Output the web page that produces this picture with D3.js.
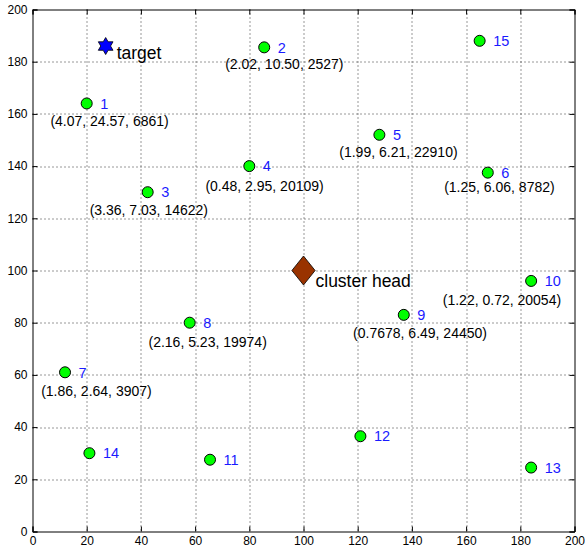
<!DOCTYPE html>
<html>
<head>
<meta charset="utf-8">
<script src="https://cdn.jsdelivr.net/npm/d3@7"></script>
<style>
  body { margin: 0; background: #fff; }
  svg { display: block; font-family: "Liberation Sans", Arial, Helvetica, sans-serif; }
  .tick-label { font-size: 12px; fill: #000; }
  .node-id { font-size: 14.5px; fill: #1a1aff; }
  .tuple { font-size: 14px; fill: #000; }
  .big-label { font-size: 17.5px; fill: #000; }
</style>
</head>
<body>
<div id="app"></div>
<script>
// sensor nodes
const nodeIds = [1, 2, 3, 4, 5, 6, 7, 8, 9, 10, 11, 12, 13, 14, 15]
const nodeX = [20, 85.5, 42.5, 80, 128, 168, 12, 58, 137, 184, 65.5, 121, 184, 21, 165]
const nodeY = [164, 185.5, 130, 140, 152, 137.5, 61, 80, 83, 96, 27.5, 36.5, 24.5, 30, 188]

// annotation tuples for nodes 1..10, with their anchor points (data units)
const tupleText = [
  '(4.07, 24.57, 6861)',
  '(2.02, 10.50, 2527)',
  '(3.36, 7.03, 14622)',
  '(0.48, 2.95, 20109)',
  '(1.99, 6.21, 22910)',
  '(1.25, 6.06, 8782)',
  '(1.86, 2.64, 3907)',
  '(2.16, 5.23, 19974)',
  '(0.7678, 6.49, 24450)',
  '(1.22, 0.72, 20054)',
]
const tupleX = [6.6, 71.1, 21.1, 63.8, 113.2, 151.9, 3.2, 42.8, 118.3, 151.4]
const tupleY = [157.2, 179.2, 123.1, 132.4, 145.5, 131.8, 53.9, 72.6, 76.1, 88.7]

const target = { label: 'target', x: 27, y: 186 }
const clusterHead = { label: 'cluster head', x: 100, y: 100 }

const xTicks = [0, 20, 40, 60, 80, 100, 120, 140, 160, 180, 200]
const yTicks = [0, 20, 40, 60, 80, 100, 120, 140, 160, 180, 200]

const W = 585
const H = 550
const margin = { top: 9.5, right: 10.5, bottom: 18.5, left: 32.5 }
const width = W - margin.left - margin.right
const height = H - margin.top - margin.bottom

const svg = d3
  .select('#app')
  .append('svg')
  .attr('width', W)
  .attr('height', H)

const g = svg.append('g').attr('transform', `translate(${margin.left},${margin.top})`)

const x = d3.scaleLinear().domain([0, 200]).range([0, width])
const y = d3.scaleLinear().domain([0, 200]).range([height, 0])

// dotted grid
g.append('g')
  .selectAll('line')
  .data(xTicks.slice(1, -1))
  .join('line')
  .attr('x1', d => Math.round(x(d)) + 0.5)
  .attr('x2', d => Math.round(x(d)) + 0.5)
  .attr('y1', 0)
  .attr('y2', height)
  .attr('stroke', '#333')
  .attr('stroke-dasharray', '1,3')
g.append('g')
  .selectAll('line')
  .data(yTicks.slice(1, -1))
  .join('line')
  .attr('y1', d => Math.round(y(d)) + 0.5)
  .attr('y2', d => Math.round(y(d)) + 0.5)
  .attr('x1', 0)
  .attr('x2', width)
  .attr('stroke', '#333')
  .attr('stroke-dasharray', '1,3')

// axes, ticks inward on all sides
const tk = 5
g.append('g')
  .attr('transform', `translate(0,${height})`)
  .call(d3.axisBottom(x).tickValues(xTicks).tickSize(-tk).tickPadding(5))
g.append('g')
  .call(d3.axisTop(x).tickValues(xTicks).tickSize(-tk).tickFormat(() => ''))
g.append('g')
  .call(d3.axisLeft(y).tickValues(yTicks).tickSize(-tk).tickPadding(5))
g.append('g')
  .attr('transform', `translate(${width},0)`)
  .call(d3.axisRight(y).tickValues(yTicks).tickSize(-tk).tickFormat(() => ''))

g.selectAll('.domain').attr('stroke', '#000').attr('stroke-width', 1)
g.selectAll('.tick line').attr('stroke', '#000')
g.selectAll('.tick text').attr('class', 'tick-label')
svg.selectAll('g[font-size]').attr('font-size', null).attr('font-family', null)

// custom markers
const hexagram = {
  draw(ctx, r) {
    const ri = r / Math.sqrt(3)
    for (let i = 0; i < 12; i++) {
      const a = -Math.PI / 2 + i * Math.PI / 6
      const rr = i % 2 === 0 ? r : ri
      const px = rr * Math.cos(a)
      const py = rr * Math.sin(a)
      if (i === 0) ctx.moveTo(px, py)
      else ctx.lineTo(px, py)
    }
    ctx.closePath()
  },
}
const wideDiamond = {
  draw(ctx, h) {
    const w = h * 0.8
    ctx.moveTo(0, -h)
    ctx.lineTo(w, 0)
    ctx.lineTo(0, h)
    ctx.lineTo(-w, 0)
    ctx.closePath()
  },
}

// tuples
g.append('g')
  .selectAll('text')
  .data(tupleText)
  .join('text')
  .attr('class', 'tuple')
  .attr('x', (_, i) => x(tupleX[i]))
  .attr('y', (_, i) => y(tupleY[i]))
  .attr('dy', '0.35em')
  .text(d => d)

// nodes
g.append('g')
  .selectAll('circle')
  .data(nodeIds)
  .join('circle')
  .attr('cx', (_, i) => x(nodeX[i]))
  .attr('cy', (_, i) => y(nodeY[i]))
  .attr('r', 5.5)
  .attr('fill', '#00ff00')
  .attr('stroke', '#000')
  .attr('stroke-width', 1)

g.append('g')
  .selectAll('text')
  .data(nodeIds)
  .join('text')
  .attr('class', 'node-id')
  .attr('x', (_, i) => x(nodeX[i]) + 13.5)
  .attr('y', (_, i) => y(nodeY[i]))
  .attr('dy', '0.36em')
  .text(d => d)

// target
g.append('path')
  .attr('transform', `translate(${x(target.x)},${y(target.y)})`)
  .attr('d', d3.symbol().type(hexagram).size(8.5)())
  .attr('fill', '#0000ff')
  .attr('stroke', '#000')
  .attr('stroke-width', 0.8)
g.append('text')
  .attr('class', 'big-label')
  .attr('x', x(target.x) + 11)
  .attr('y', y(target.y) + 6.5)
  .attr('dy', '0.35em')
  .text(target.label)

// cluster head
g.append('path')
  .attr('transform', `translate(${x(clusterHead.x)},${y(clusterHead.y)})`)
  .attr('d', d3.symbol().type(wideDiamond).size(14.5)())
  .attr('fill', '#993300')
  .attr('stroke', '#000')
  .attr('stroke-width', 0.8)
g.append('text')
  .attr('class', 'big-label')
  .attr('x', x(clusterHead.x) + 12)
  .attr('y', y(clusterHead.y) + 10)
  .attr('dy', '0.35em')
  .text(clusterHead.label)
</script>
</body>
</html>
